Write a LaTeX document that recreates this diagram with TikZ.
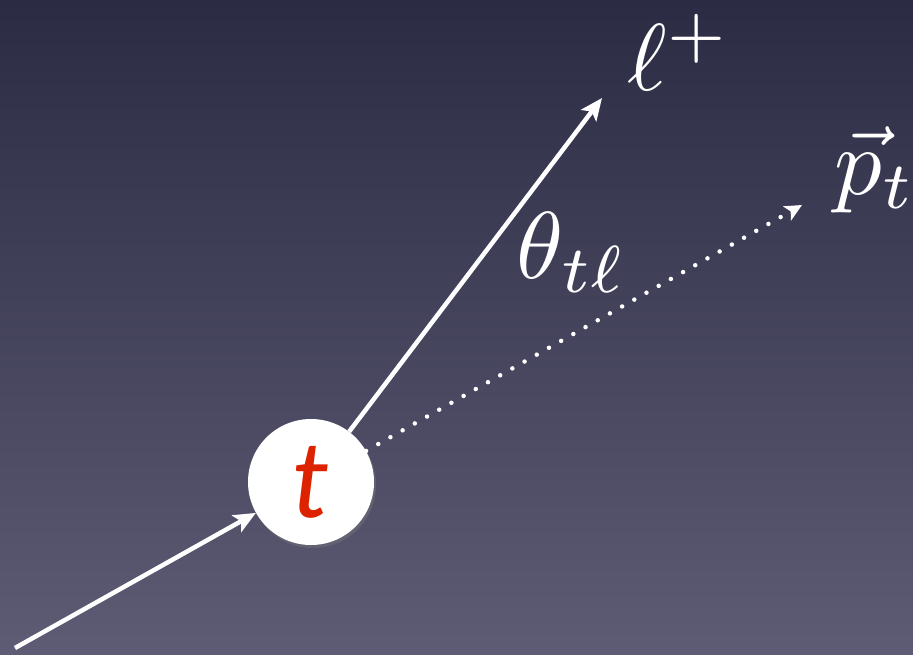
\documentclass[tikz,border=0pt]{standalone}
\usepackage{fontspec}
\newfontfamily\quarkfont{Lato}
\usetikzlibrary{arrows.meta,shadows}
\definecolor{bgtop}{HTML}{2B2C44}
\definecolor{bgbot}{HTML}{5E5B74}
\definecolor{quarkred}{HTML}{DD2200}
\tikzset{
  leg/.style={white,line width=4.5pt,-{Stealth[length=22pt,width=19pt,inset=5pt]}},
  flight/.style={white,line width=4.5pt,line cap=round,dash pattern=on 0pt off 14pt,
    -{Stealth[length=17pt,width=16pt,inset=4pt]}},
  quark/.style={circle,fill=white,minimum size=126pt,inner sep=0pt,text=quarkred,
    font=\quarkfont\itshape\fontsize{106}{106}\selectfont,
    drop shadow={opacity=0.35,shadow xshift=2pt,shadow yshift=-3pt}},
  lbl/.style={text=white,scale=9.5,inner sep=0pt,anchor=base west}
}
\begin{document}
\begin{tikzpicture}[x=1pt,y=-1pt]
  \shade[top color=bgtop,bottom color=bgbot] (0,0) rectangle (913,654);
  \useasboundingbox (0,0) rectangle (913,654);
  % top quark and its decay
  \node[quark] (top) at (311,482) {t};
  \coordinate (in) at (15,648);
  \coordinate (ltip) at (602,98);
  \coordinate (ptip) at (802,205);
  \draw[leg] (in) -- (top);
  \draw[leg] (top) -- (ltip);
  \draw[flight] (top) -- (ptip);
  \node[lbl] (lep) at (626,90) {$\ell^+$};
  \node[lbl] (mom) at (833,194) {$\vec p_t$};
  \node[lbl] (ang) at (515,278) {$\theta_{t\ell}$};
\end{tikzpicture}
\end{document}
